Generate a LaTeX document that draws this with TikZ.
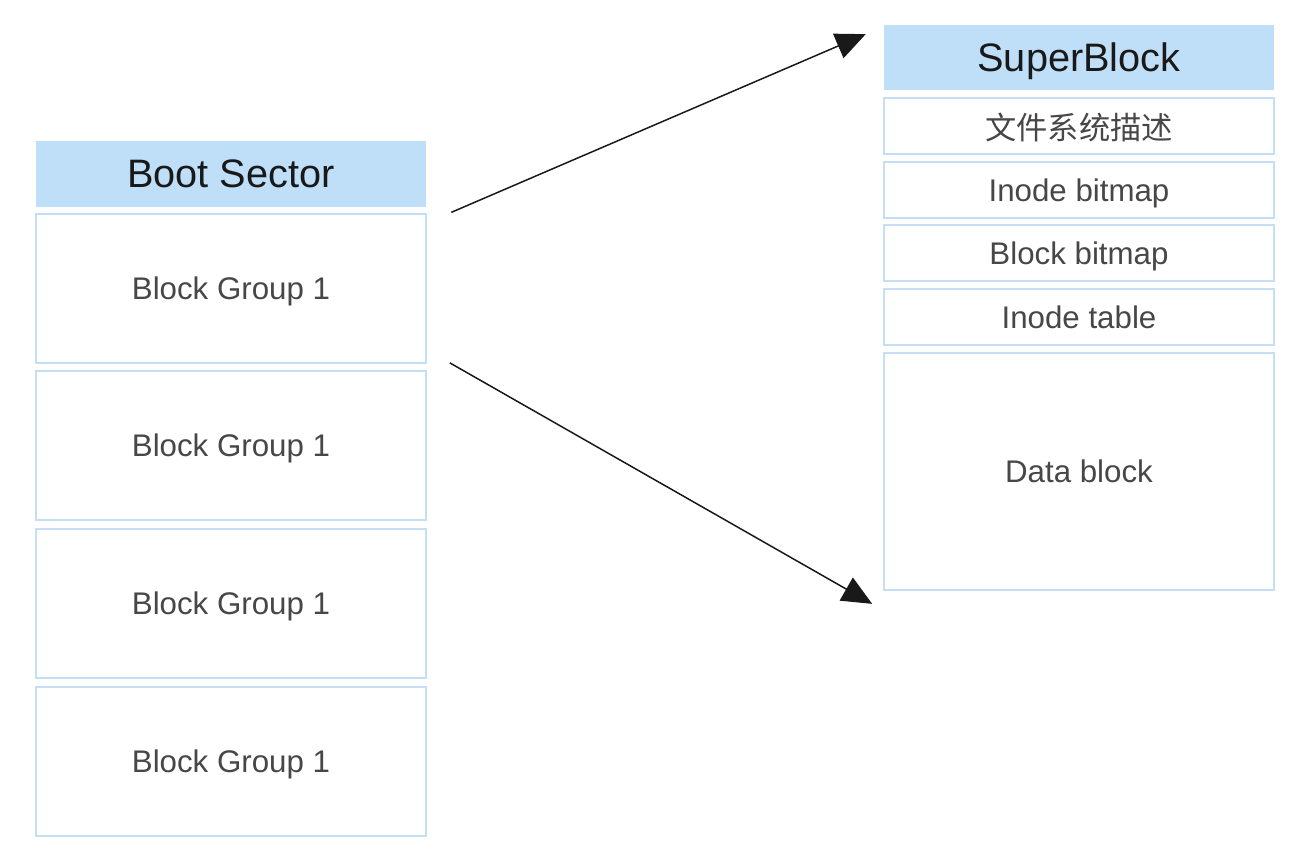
\documentclass[tikz,border=0pt]{standalone}
\usepackage{fontspec}
\setmainfont{Liberation Sans}
\newfontfamily\cjkfont{Noto Sans CJK SC}
\usetikzlibrary{arrows.meta,calc}
\definecolor{headblue}{HTML}{BFDFF8}
\definecolor{lineblue}{HTML}{C4DEF5}

\begin{document}
\begin{tikzpicture}[x=0.02cm,y=-0.02cm,
	head/.style={fill=headblue, minimum width=7.8cm, minimum height=1.32cm, inner sep=0pt, text depth=0pt, font=\fontsize{22.6}{26}\selectfont, text=black!90},
	cell/.style={draw=lineblue, line width=1pt, fill=white, minimum width=7.8cm, inner sep=0pt, text depth=0pt, font=\fontsize{17.8}{21}\selectfont, text=black!72},
	link/.style={draw=black!90, line width=0.85pt, -{Triangle[length=17pt,width=15pt]}}]
	\useasboundingbox (0,0) rectangle (1312,862);
	% left column
	\node[head] (boot) at (231,174) {Boot Sector};
	\node[cell, minimum height=2.98cm] (g1) at (231,288.5) {Block Group 1};
	\node[cell, minimum height=2.98cm] (g2) at (231,445.5) {Block Group 1};
	\node[cell, minimum height=2.98cm] (g3) at (231,603.5) {Block Group 1};
	\node[cell, minimum height=2.98cm] (g4) at (231,761.5) {Block Group 1};
	% right column
	\node[head] (super) at (1079,57.5) {SuperBlock};
	\node[cell, minimum height=1.12cm] (desc) at (1079,126) {\cjkfont 文件系统描述};
	\node[cell, minimum height=1.12cm] (ibmap) at (1079,190) {Inode bitmap};
	\node[cell, minimum height=1.12cm] (bbmap) at (1079,253) {Block bitmap};
	\node[cell, minimum height=1.12cm] (itable) at (1079,317) {Inode table};
	\node[cell, minimum height=4.74cm] (data) at (1079,471.5) {Data block};
	% arrows
	\coordinate (topstart) at ($(boot.south east)+(25,5)$);
	\coordinate (topend) at ($(super.north west)+(-18,10)$);
	\coordinate (botstart) at ($(g1.south east)+(23,-1)$);
	\coordinate (botend) at ($(data.south west)+(-11,13)$);
	\draw[link] (topstart) -- (topend); % to superblock
	\draw[link] (botstart) -- (botend); % to data block
\end{tikzpicture}
\end{document}
